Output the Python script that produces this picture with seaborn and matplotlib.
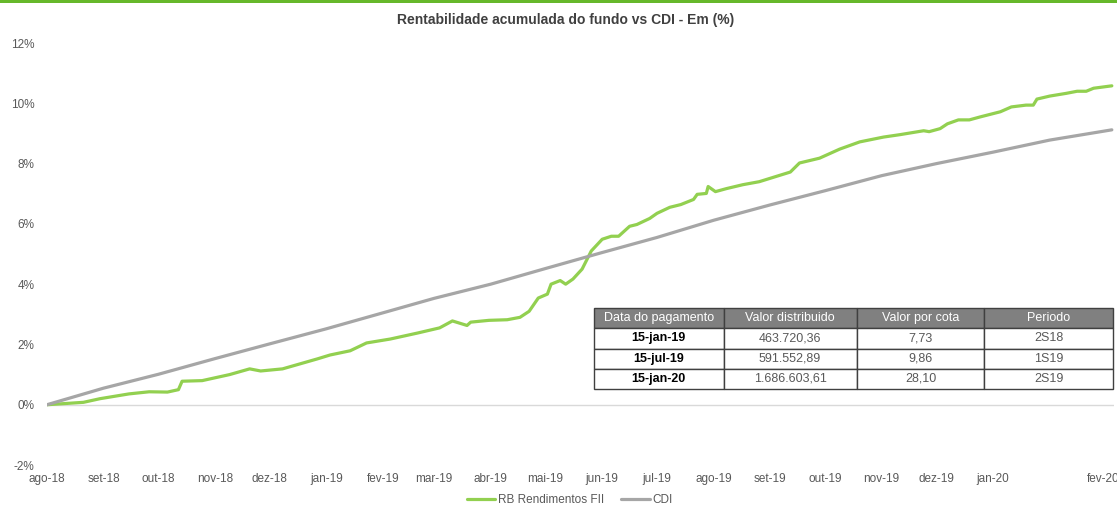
import pandas as pd
import matplotlib.pyplot as plt
from matplotlib.patches import Rectangle
from matplotlib.ticker import FuncFormatter
import seaborn as sns

# RB Rendimentos FII - rentabilidade acumulada (%)
fundo_datas = ['2018-08-01', '2018-08-21', '2018-08-30', '2018-09-15', '2018-09-26',
               '2018-10-06', '2018-10-12', '2018-10-14', '2018-10-25', '2018-11-09',
               '2018-11-20', '2018-11-26', '2018-12-08', '2018-12-27', '2019-01-03',
               '2019-01-14', '2019-01-23', '2019-02-05', '2019-02-20', '2019-03-04',
               '2019-03-11', '2019-03-19', '2019-03-21', '2019-03-31', '2019-04-10',
               '2019-04-17', '2019-04-22', '2019-04-27', '2019-05-02', '2019-05-04',
               '2019-05-09', '2019-05-12', '2019-05-16', '2019-05-21', '2019-05-24',
               '2019-05-26', '2019-06-01', '2019-06-06', '2019-06-10', '2019-06-16',
               '2019-06-20', '2019-06-27', '2019-07-01', '2019-07-08', '2019-07-14',
               '2019-07-21', '2019-07-23', '2019-07-28', '2019-07-29', '2019-08-02',
               '2019-08-08', '2019-08-17', '2019-08-26', '2019-09-12', '2019-09-17',
               '2019-09-28', '2019-10-09', '2019-10-20', '2019-11-02', '2019-11-11',
               '2019-11-24', '2019-11-27', '2019-12-03', '2019-12-07', '2019-12-13',
               '2019-12-19', '2019-12-25', '2020-01-05', '2020-01-11', '2020-01-19',
               '2020-01-23', '2020-01-25', '2020-02-01', '2020-02-10', '2020-02-16',
               '2020-02-21', '2020-02-25', '2020-03-06']
fundo_valores = [0.00, 0.08, 0.20, 0.36, 0.43,
                 0.42, 0.50, 0.78, 0.80, 1.00,
                 1.19, 1.12, 1.19, 1.52, 1.65,
                 1.79, 2.05, 2.18, 2.38, 2.55,
                 2.78, 2.63, 2.74, 2.80, 2.82,
                 2.90, 3.10, 3.54, 3.67, 4.00,
                 4.12, 4.00, 4.17, 4.50, 4.86,
                 5.10, 5.49, 5.59, 5.59, 5.92,
                 5.98, 6.18, 6.35, 6.55, 6.64,
                 6.81, 6.98, 7.01, 7.24, 7.07,
                 7.17, 7.30, 7.40, 7.72, 8.02,
                 8.18, 8.48, 8.72, 8.88, 8.96,
                 9.09, 9.06, 9.16, 9.32, 9.45,
                 9.45, 9.55, 9.72, 9.88, 9.94,
                 9.94, 10.14, 10.24, 10.33, 10.40,
                 10.40, 10.50, 10.58]

# CDI acumulado (%)
cdi_datas = ['2018-08-01', '2018-09-01', '2018-10-01', '2018-11-01', '2018-12-01',
             '2019-01-01', '2019-02-01', '2019-03-01', '2019-04-01', '2019-05-01',
             '2019-06-01', '2019-07-01', '2019-08-01', '2019-09-01', '2019-10-01',
             '2019-11-01', '2019-12-01', '2020-01-01', '2020-02-01', '2020-03-06']
cdi_valores = [0.00, 0.55, 1.01, 1.53, 2.02,
               2.52, 3.05, 3.53, 4.00, 4.52,
               5.05, 5.55, 6.12, 6.63, 7.10,
               7.60, 8.00, 8.38, 8.78, 9.12]

meses = ['2018-08-01', '2018-09-01', '2018-10-01', '2018-11-01', '2018-12-01',
         '2019-01-01', '2019-02-01', '2019-03-01', '2019-04-01', '2019-05-01',
         '2019-06-01', '2019-07-01', '2019-08-01', '2019-09-01', '2019-10-01',
         '2019-11-01', '2019-12-01', '2020-01-01', '2020-03-01']
meses_rotulos = ['ago-18', 'set-18', 'out-18', 'nov-18', 'dez-18', 'jan-19', 'fev-19',
                 'mar-19', 'abr-19', 'mai-19', 'jun-19', 'jul-19', 'ago-19', 'set-19',
                 'out-19', 'nov-19', 'dez-19', 'jan-20', 'fev-20']

tabela_colunas = ['Data do pagamento', 'Valor distribuido', 'Valor por cota', 'Periodo']
tabela_linhas = [['15-jan-19', '463.720,36', '7,73', '2S18'],
                 ['15-jul-19', '591.552,89', '9,86', '1S19'],
                 ['15-jan-20', '1.686.603,61', '28,10', '2S19']]

cores = {'RB Rendimentos FII': '#92d050', 'CDI': '#a6a6a6'}

sns.set_style('white')
plt.rcParams['font.family'] = ['Liberation Sans', 'DejaVu Sans']

df = pd.concat([
    pd.DataFrame({'data': pd.to_datetime(fundo_datas), 'valor': fundo_valores,
                  'serie': 'RB Rendimentos FII'}),
    pd.DataFrame({'data': pd.to_datetime(cdi_datas), 'valor': cdi_valores,
                  'serie': 'CDI'}),
], ignore_index=True)

fig = plt.figure(figsize=(11.17, 5.08), dpi=100)
ax = fig.add_axes([0.042, 0.0846, 0.955, 0.8307])

ax.axhline(0, color='#d9d9d9', lw=1, zorder=1)
sns.lineplot(data=df, x='data', y='valor', hue='serie', palette=cores,
             linewidth=2.3, estimator=None, ax=ax, zorder=3)

ax.set_xlim(pd.Timestamp('2018-08-01'), pd.Timestamp('2020-03-07'))
ax.set_ylim(-2, 12)
ax.set_yticks(range(-2, 13, 2))
ax.yaxis.set_major_formatter(FuncFormatter(lambda v, p: f'{v:.0f}%'))
ax.set_xticks(pd.to_datetime(meses))
ax.set_xticklabels(meses_rotulos)
ax.tick_params(axis='both', length=0, labelsize=8.5, colors='#595959')
ax.tick_params(axis='x', pad=6)
ax.tick_params(axis='y', pad=9)
ax.set_xlabel('')
ax.set_ylabel('')
sns.despine(ax=ax, left=True, bottom=True)

sns.move_legend(ax, 'center', bbox_to_anchor=(0.49, -0.083), ncol=2, frameon=False,
                title=None, fontsize=8.5, handlelength=2.4, columnspacing=1.5,
                handletextpad=0.2)
for t in ax.get_legend().get_texts():
    t.set_color('#595959')

fig.text(0.506, 1 - 20 / 508, 'Rentabilidade acumulada do fundo vs CDI - Em (%)',
         ha='center', va='center', fontsize=10, fontweight='bold', color='#404040')
fig.patches.append(Rectangle((0, 1 - 3 / 508), 1, 3 / 508, transform=fig.transFigure,
                             facecolor='#66b82a', edgecolor='none'))

tab = ax.table(cellText=tabela_linhas, colLabels=tabela_colunas, cellLoc='center',
               colWidths=[130, 133, 128, 129], bbox=[0.5127, 0.18, 0.487, 0.192])
tab.auto_set_font_size(False)
tab.set_fontsize(9)
for (r, c), cell in tab.get_celld().items():
    cell.set_edgecolor('#404040')
    cell.set_linewidth(1)
    cell.set_zorder(5)
    if r == 0:
        cell.set_facecolor('#808080')
        cell.get_text().set_color('white')
    elif c == 0:
        cell.get_text().set_fontweight('bold')
        cell.get_text().set_color('black')
    else:
        cell.get_text().set_color('#595959')

fig.savefig('out.png', dpi=100)
